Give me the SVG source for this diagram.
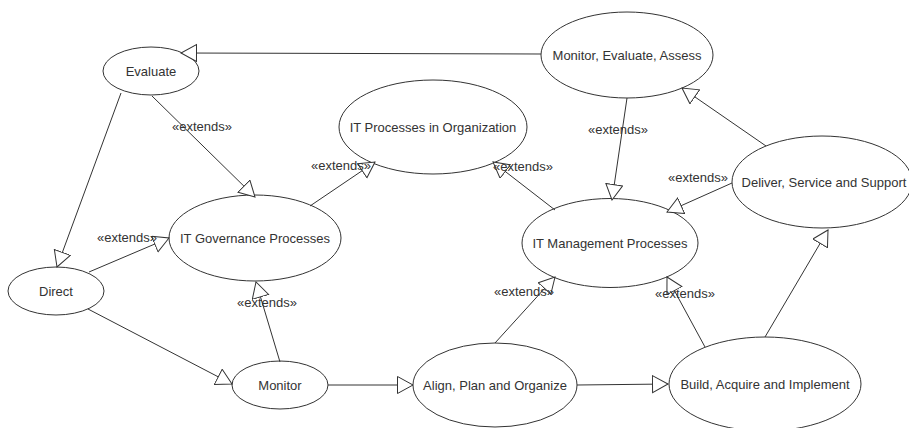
<svg xmlns="http://www.w3.org/2000/svg" width="909" height="428" viewBox="0 0 909 428">
<style>
.n{fill:#fff;stroke:#333;stroke-width:1}
.t{font-family:"Liberation Sans",Arial,sans-serif;font-size:13px;fill:#333;text-anchor:middle}
.c line{stroke:#333;stroke-width:1;marker-end:url(#tri)}
</style>
<defs>
<marker id="tri" markerUnits="userSpaceOnUse" markerWidth="18" markerHeight="20" refX="16" refY="9" orient="auto">
<path d="M0.5,0.5 L16,9 L0.5,17.5 Z" fill="#fff" stroke="#333" stroke-width="1"/>
</marker>
</defs>
<rect width="909" height="428" fill="#fff"/>
<g id="nodes">
<g id="evaluate"><ellipse class="n" cx="151" cy="71" rx="48" ry="24"/><text class="t" x="151" y="75.5">Evaluate</text></g>
<g id="it-processes"><ellipse class="n" cx="433" cy="127" rx="94" ry="47"/><text class="t" x="433" y="131.5">IT Processes in Organization</text></g>
<g id="mea"><ellipse class="n" cx="627" cy="55" rx="86" ry="43"/><text class="t" x="627" y="59.5">Monitor, Evaluate, Assess</text></g>
<g id="dss"><ellipse class="n" cx="822" cy="182" rx="90" ry="46"/><text class="t" x="824" y="186.5">Deliver, Service and Support</text></g>
<g id="it-gov"><ellipse class="n" cx="255" cy="238" rx="86" ry="43"/><text class="t" x="255" y="242.5">IT Governance Processes</text></g>
<g id="direct"><ellipse class="n" cx="56" cy="291" rx="48" ry="24"/><text class="t" x="56" y="295.5">Direct</text></g>
<g id="monitor"><ellipse class="n" cx="280" cy="385" rx="48" ry="24"/><text class="t" x="280" y="389.5">Monitor</text></g>
<g id="apo"><ellipse class="n" cx="495" cy="385" rx="82" ry="42"/><text class="t" x="495" y="389.5">Align, Plan and Organize</text></g>
<g id="it-mgmt"><ellipse class="n" cx="610" cy="243" rx="88" ry="44.5"/><text class="t" x="610" y="247.5">IT Management Processes</text></g>
<g id="bai"><ellipse class="n" cx="765" cy="384" rx="96" ry="47"/><text class="t" x="765" y="388.5">Build, Acquire and Implement</text></g>
</g>
<g id="connectors" class="c">
<line x1="541" y1="54" x2="181" y2="53"/>
<line x1="152" y1="96" x2="255" y2="197"/>
<line x1="121" y1="93" x2="57" y2="267"/>
<line x1="89" y1="272" x2="169" y2="238"/>
<line x1="88" y1="309" x2="232" y2="384"/>
<line x1="280" y1="362" x2="256" y2="282"/>
<line x1="328" y1="385" x2="413" y2="385"/>
<line x1="310" y1="206" x2="375" y2="162"/>
<line x1="555" y1="210" x2="493" y2="162"/>
<line x1="627" y1="98" x2="612" y2="200"/>
<line x1="732" y1="183" x2="667" y2="212"/>
<line x1="766" y1="146" x2="682" y2="88"/>
<line x1="495" y1="343" x2="555" y2="277"/>
<line x1="705" y1="347" x2="667" y2="277"/>
<line x1="577" y1="385" x2="668" y2="384"/>
<line x1="765" y1="337" x2="828" y2="230"/>
</g>
<g id="labels">
<text class="t" x="202" y="131">«extends»</text>
<text class="t" x="127" y="242">«extends»</text>
<text class="t" x="267" y="307">«extends»</text>
<text class="t" x="341" y="170">«extends»</text>
<text class="t" x="523" y="171">«extends»</text>
<text class="t" x="618" y="134">«extends»</text>
<text class="t" x="698" y="182">«extends»</text>
<text class="t" x="524" y="296">«extends»</text>
<text class="t" x="685" y="298">«extends»</text>
</g>
</svg>
